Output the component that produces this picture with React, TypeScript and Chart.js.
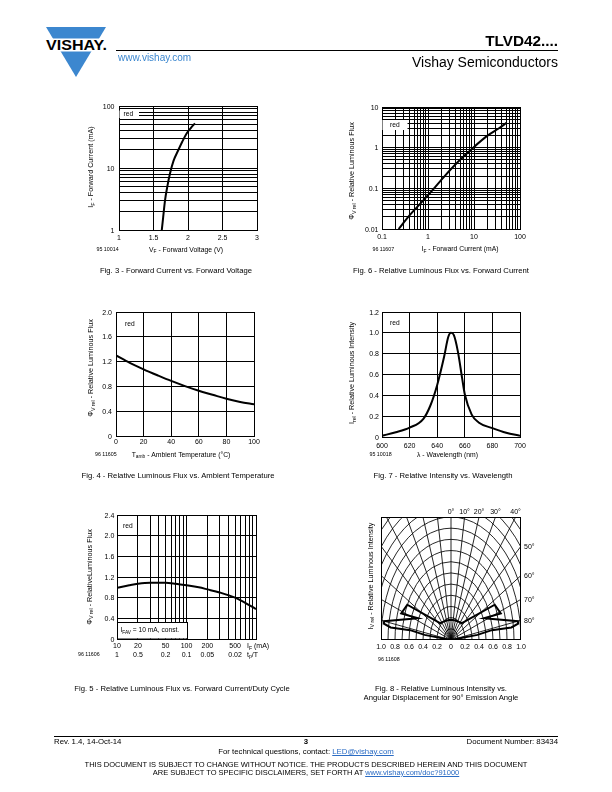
import React, { useEffect, useRef } from 'react';
import { Chart, registerables } from 'chart.js';

Chart.register(...registerables);

const FONT = '"Liberation Sans", Arial, Helvetica, sans-serif';
const BLUE = '#3c87cf';
const LINK = '#2b6cc4';

// ---------- Fig. 3 : Forward current vs forward voltage ----------
const fig3Voltage = [1.62, 1.64, 1.667, 1.7, 1.74, 1.79, 1.86, 1.92, 1.98, 2.04, 2.1];
const fig3Current = [1, 1.6, 3, 5, 8.2, 13, 19.5, 27, 36, 44, 52.6];
const fig3XTicks = [1, 1.5, 2, 2.5, 3];
const fig3XLabels = ['1', '1.5', '2', '2.5', '3'];
const fig3YTicks = [1, 10, 100];
const fig3YLabels = ['1', '10', '100'];

// ---------- Fig. 6 : Relative luminous flux vs forward current ----------
const fig6Current = [0.23, 0.4, 0.72, 1.2, 2.3, 4.5, 9.6, 20, 35, 51];
const fig6Flux = [0.01, 0.022, 0.045, 0.085, 0.2, 0.45, 1.0, 2.0, 3.0, 4.1];
const fig6XTicks = [0.1, 1, 10, 100];
const fig6XLabels = ['0.1', '1', '10', '100'];
const fig6YTicks = [0.01, 0.1, 1, 10];
const fig6YLabels = ['0.01', '0.1', '1', '10'];

// ---------- Fig. 4 : Relative luminous flux vs ambient temperature ----------
const fig4Temperature = [0, 10, 20, 30, 40, 50, 60, 70, 80, 90, 100];
const fig4Flux = [1.3, 1.18, 1.076, 0.98, 0.888, 0.805, 0.73, 0.665, 0.6, 0.55, 0.51];
const fig4XTicks = [0, 20, 40, 60, 80, 100];
const fig4XLabels = ['0', '20', '40', '60', '80', '100'];
const fig4YTicks = [0, 0.4, 0.8, 1.2, 1.6, 2.0];
const fig4YLabels = ['0', '0.4', '0.8', '1.2', '1.6', '2.0'];

// ---------- Fig. 7 : Relative intensity vs wavelength ----------
const fig7Wavelength = [600, 610, 620, 630, 635, 640, 645, 648, 650, 652, 655, 658, 660, 665, 670, 680, 690, 700];
const fig7Intensity = [0.012, 0.045, 0.09, 0.175, 0.3, 0.5, 0.77, 0.96, 1.0, 0.98, 0.82, 0.57, 0.41, 0.215, 0.14, 0.085, 0.04, 0.012];
const fig7XTicks = [600, 620, 640, 660, 680, 700];
const fig7XLabels = ['600', '620', '640', '660', '680', '700'];
const fig7YTicks = [0, 0.2, 0.4, 0.6, 0.8, 1.0, 1.2];
const fig7YLabels = ['0', '0.2', '0.4', '0.6', '0.8', '1.0', '1.2'];

// ---------- Fig. 5 : Relative luminous flux vs forward current / duty cycle ----------
const fig5Current = [10, 15, 20, 30, 50, 70, 100, 150, 200, 300, 500, 700, 1000];
const fig5Flux = [0.99, 1.04, 1.07, 1.09, 1.09, 1.07, 1.04, 1.0, 0.96, 0.9, 0.8, 0.7, 0.58];
const fig5XTicks = [10, 20, 50, 100, 200, 500];
const fig5XLabels = ['10', '20', '50', '100', '200', '500'];
const fig5DutyLabels = ['1', '0.5', '0.2', '0.1', '0.05', '0.02'];
const fig5YTicks = [0, 0.4, 0.8, 1.2, 1.6, 2.0, 2.4];
const fig5YLabels = ['0', '0.4', '0.8', '1.2', '1.6', '2.0', '2.4'];

// ---------- Fig. 8 : Relative luminous intensity vs angular displacement ----------
// right half of the outline, in path order (degrees from axis, relative intensity); left half is mirrored
const fig8Angles = [0, 20, 35, 46, 63.2, 71.5, 67.5, 80, 81.3, 82.6, 81.4, 83.1, 86];
const fig8Radii = [0.18, 0.185, 0.198, 0.217, 0.7, 0.75, 0.51, 0.97, 0.97, 0.87, 0.59, 0.38, 0];
const fig8XTicks = [-1, -0.8, -0.6, -0.4, -0.2, 0, 0.2, 0.4, 0.6, 0.8, 1];
const fig8XLabels = ['1.0', '0.8', '0.6', '0.4', '0.2', '0', '0.2', '0.4', '0.6', '0.8', '1.0'];
const fig8AngleLabels = [0, 10, 20, 30, 40, 50, 60, 70, 80];
const fig8GridAngles = [-90, -80, -70, -60, -50, -40, -30, -20, -10, 0, 10, 20, 30, 40, 50, 60, 70, 80, 90];
const fig8GridRadii = [0.1, 0.2, 0.3, 0.4, 0.5, 0.6, 0.7, 0.8, 0.9, 1.0, 1.1, 1.2, 1.3, 1.4, 1.5];

// ---------- helpers ----------
function logGrid(min: number, max: number): number[] {
  const out: number[] = [];
  for (let e = Math.floor(Math.log10(min)); e <= Math.ceil(Math.log10(max)); e++) {
    for (let k = 1; k <= 9; k++) {
      const v = parseFloat((k * Math.pow(10, e)).toPrecision(6));
      if (v >= min * 0.999 && v <= max * 1.001) out.push(v);
    }
  }
  return out;
}
function linGrid(min: number, max: number, step: number): number[] {
  const out: number[] = [];
  for (let v = min; v <= max + 1e-9; v += step) out.push(parseFloat(v.toFixed(6)));
  return out;
}

type Part = { t: string; sub: boolean };
function parseRich(s: string): Part[] {
  const parts: Part[] = [];
  const re = /_\{([^}]*)\}/g;
  let last = 0;
  let m: RegExpExecArray | null;
  while ((m = re.exec(s))) {
    if (m.index > last) parts.push({ t: s.slice(last, m.index), sub: false });
    parts.push({ t: m[1], sub: true });
    last = m.index + m[0].length;
  }
  if (last < s.length) parts.push({ t: s.slice(last), sub: false });
  return parts;
}

function drawRich(ctx: CanvasRenderingContext2D, s: string, x: number, y: number, size: number, align: string = 'left', rotate = false) {
  const parts = parseRich(s);
  const subSize = size * 0.72;
  const fontOf = (p: Part) => `${p.sub ? subSize : size}px ${FONT}`;
  let total = 0;
  const widths = parts.map((p) => {
    ctx.font = fontOf(p);
    const w = ctx.measureText(p.t).width;
    total += w;
    return w;
  });
  ctx.save();
  ctx.translate(x, y);
  if (rotate) ctx.rotate(-Math.PI / 2);
  ctx.fillStyle = '#000';
  ctx.textBaseline = 'alphabetic';
  ctx.textAlign = 'left';
  let cx = align === 'left' ? 0 : align === 'center' ? -total / 2 : -total;
  const base = size * 0.36;
  parts.forEach((p, i) => {
    ctx.font = fontOf(p);
    ctx.fillText(p.t, cx, p.sub ? base + size * 0.22 : base);
    cx += widths[i];
  });
  ctx.restore();
}

type PageBox = { left: number; top: number; width: number; height: number };
type PlotRect = { l: number; t: number; r: number; b: number };

function padding(box: PageBox, plot: PlotRect) {
  return {
    left: plot.l - box.left,
    top: plot.t - box.top,
    right: box.left + box.width - plot.r,
    bottom: box.top + box.height - plot.b,
  };
}

function axisOptions(type: string, min: number, max: number, grid: number[]) {
  return {
    type,
    min,
    max,
    display: true,
    ticks: { display: false },
    grid: { display: true, color: '#000', lineWidth: 1, drawTicks: false, tickLength: 0 },
    border: { display: true, color: '#000', width: 1 },
    title: { display: false },
    afterBuildTicks: (scale: any) => {
      scale.ticks = grid.map((v) => ({ value: v }));
    },
  };
}

const TICK = 7;
const TITLE = 6.8;
const YTITLE = 7.2;
const CODE = 5.3;

function xyConfig(spec: any) {
  const { box, plot, x, y, xs, ys, deco } = spec;
  const decoPlugin = {
    id: 'deco',
    afterDraw(chart: any) {
      const ctx: CanvasRenderingContext2D = chart.ctx;
      const sx = chart.scales.x;
      const sy = chart.scales.y;
      const L = (px: number) => px - box.left;
      const T = (py: number) => py - box.top;
      if (deco.red.box) {
        const [x0, y0, x1, y1] = deco.red.box;
        ctx.fillStyle = '#fff';
        ctx.fillRect(L(x0), T(y0), x1 - x0, y1 - y0);
      }
      drawRich(ctx, 'red', L(deco.red.x), T(deco.red.y), TICK * 0.95, 'left');
      deco.xTicks.forEach((v: number, i: number) =>
        drawRich(ctx, deco.xLabels[i], sx.getPixelForValue(v), T(deco.xLabelY), TICK, 'center'));
      deco.yTicks.forEach((v: number, i: number) =>
        drawRich(ctx, deco.yLabels[i], L(deco.yLabelRight), sy.getPixelForValue(v), TICK, 'right'));
      drawRich(ctx, deco.code, L(deco.codeX), T(deco.codeY), CODE, 'left');
      if (deco.title) drawRich(ctx, deco.title, L(deco.titleX), T(deco.titleY), TITLE, 'center');
      drawRich(ctx, deco.yTitle, L(deco.yTitleX), T(deco.yTitleY), YTITLE, 'center', true);
      if (deco.extra) deco.extra(ctx, chart, L, T);
    },
  };
  return {
    type: 'scatter',
    data: {
      datasets: [
        {
          data: xs.map((v: number, i: number) => ({ x: v, y: ys[i] })),
          showLine: true,
          borderColor: '#000',
          borderWidth: 2,
          pointRadius: 0,
          pointHoverRadius: 0,
          fill: false,
          cubicInterpolationMode: 'monotone',
          tension: 0.4,
        },
      ],
    },
    options: {
      responsive: false,
      maintainAspectRatio: false,
      animation: false,
      devicePixelRatio: 1,
      events: [],
      layout: { padding: padding(box, plot) },
      plugins: { legend: { display: false }, tooltip: { enabled: false } },
      scales: {
        x: axisOptions(x.type, x.min, x.max, x.grid),
        y: axisOptions(y.type, y.min, y.max, y.grid),
      },
    },
    plugins: [decoPlugin],
  };
}

function fig8Config(box: PageBox, plot: PlotRect) {
  const rad = (d: number) => (d * Math.PI) / 180;
  const right = fig8Angles.map((a, i) => ({ a, r: fig8Radii[i] }));
  const left = right.slice().reverse().map((p) => ({ a: -p.a, r: p.r }));
  const path = [...left, ...right.slice(1)];
  const data = path.map((p) => ({ x: p.r * Math.sin(rad(p.a)), y: p.r * Math.cos(rad(p.a)) }));
  const xMax = 1;
  const yMax = 1.1;
  const gridPlugin = {
    id: 'polarGrid',
    beforeDatasetsDraw(chart: any) {
      const ctx: CanvasRenderingContext2D = chart.ctx;
      const a = chart.chartArea;
      const sx = chart.scales.x;
      const sy = chart.scales.y;
      const cx = sx.getPixelForValue(0);
      const cy = sy.getPixelForValue(0);
      ctx.save();
      ctx.beginPath();
      ctx.rect(a.left, a.top, a.right - a.left, a.bottom - a.top);
      ctx.clip();
      ctx.strokeStyle = '#000';
      ctx.lineWidth = 0.85;
      fig8GridRadii.forEach((r) => {
        const rx = sx.getPixelForValue(r) - cx;
        const ry = cy - sy.getPixelForValue(r);
        ctx.beginPath();
        ctx.ellipse(cx, cy, rx, ry, 0, Math.PI, 2 * Math.PI);
        ctx.stroke();
      });
      fig8GridAngles.forEach((d) => {
        ctx.beginPath();
        ctx.moveTo(cx, cy);
        ctx.lineTo(sx.getPixelForValue(3 * Math.sin(rad(d))), sy.getPixelForValue(3 * Math.cos(rad(d))));
        ctx.stroke();
      });
      ctx.restore();
      ctx.save();
      ctx.strokeStyle = '#000';
      ctx.lineWidth = 1;
      ctx.strokeRect(a.left + 0.5, a.top + 0.5, a.right - a.left - 1, a.bottom - a.top - 1);
      ctx.restore();
    },
    afterDraw(chart: any) {
      const ctx: CanvasRenderingContext2D = chart.ctx;
      const a = chart.chartArea;
      const sx = chart.scales.x;
      const sy = chart.scales.y;
      const L = (px: number) => px - box.left;
      const T = (py: number) => py - box.top;
      fig8XTicks.forEach((v, i) => drawRich(ctx, fig8XLabels[i], sx.getPixelForValue(v), a.bottom + 6, TICK, 'center'));
      fig8AngleLabels.forEach((d) => {
        const t = Math.tan(rad(d));
        const xTop = yMax * t;
        if (xTop <= xMax) {
          drawRich(ctx, `${d}°`, sx.getPixelForValue(xTop), a.top - 6, TICK, 'center');
        } else {
          drawRich(ctx, `${d}°`, a.right + 3, sy.getPixelForValue(xMax / t), TICK, 'left');
        }
      });
      drawRich(ctx, '96 11608', L(378), T(659), CODE, 'left');
      drawRich(ctx, 'I_{V rel} - Relative Luminous Intensity', L(370), T(576), YTITLE, 'center', true);
    },
  };
  return {
    type: 'scatter',
    data: {
      datasets: [
        {
          data,
          showLine: true,
          borderColor: '#000',
          borderWidth: 2,
          pointRadius: 0,
          pointHoverRadius: 0,
          fill: false,
          tension: 0,
        },
      ],
    },
    options: {
      responsive: false,
      maintainAspectRatio: false,
      animation: false,
      devicePixelRatio: 1,
      events: [],
      layout: { padding: padding(box, plot) },
      plugins: { legend: { display: false }, tooltip: { enabled: false } },
      scales: {
        x: { type: 'linear', min: -xMax, max: xMax, display: false },
        y: { type: 'linear', min: 0, max: yMax, display: false },
      },
    },
    plugins: [gridPlugin],
  };
}

function ChartCanvas({ box, build }: { box: PageBox; build: () => any }) {
  const ref = useRef<HTMLCanvasElement>(null);
  useEffect(() => {
    const chart = new Chart(ref.current as HTMLCanvasElement, build() as any);
    return () => chart.destroy();
  }, []);
  return (
    <canvas
      ref={ref}
      width={box.width}
      height={box.height}
      style={{ position: 'absolute', left: box.left, top: box.top, width: box.width, height: box.height }}
    />
  );
}

function Txt({ x, y, size, align = 'left', bold = false, color = '#000', children }: any) {
  const tx = align === 'left' ? '0' : align === 'center' ? '-50%' : '-100%';
  return (
    <div
      style={{
        position: 'absolute',
        left: x,
        top: y - size * 0.49,
        fontSize: size,
        lineHeight: `${size}px`,
        fontFamily: FONT,
        fontWeight: bold ? 'bold' : 'normal',
        color,
        whiteSpace: 'nowrap',
        transform: `translateX(${tx})`,
        willChange: 'transform',
      }}
    >
      {children}
    </div>
  );
}

// ---------- figure layouts (page coordinates) ----------
const box3: PageBox = { left: 70, top: 98, width: 220, height: 160 };
const plot3: PlotRect = { l: 119, t: 106, r: 257, b: 230 };
const box6: PageBox = { left: 335, top: 98, width: 220, height: 160 };
const plot6: PlotRect = { l: 382, t: 107, r: 520, b: 229 };
const box4: PageBox = { left: 70, top: 303, width: 220, height: 160 };
const plot4: PlotRect = { l: 116, t: 312, r: 254, b: 436 };
const box7: PageBox = { left: 335, top: 303, width: 220, height: 160 };
const plot7: PlotRect = { l: 382, t: 312, r: 520, b: 437 };
const box5: PageBox = { left: 60, top: 505, width: 240, height: 160 };
const plot5: PlotRect = { l: 117, t: 515, r: 256, b: 639 };
const box8: PageBox = { left: 335, top: 500, width: 220, height: 165 };
const plot8: PlotRect = { l: 381, t: 517, r: 521, b: 640 };

const build3 = () =>
  xyConfig({
    box: box3, plot: plot3,
    x: { type: 'linear', min: 1, max: 3, grid: linGrid(1, 3, 0.5) },
    y: { type: 'logarithmic', min: 1, max: 100, grid: logGrid(1, 100) },
    xs: fig3Voltage, ys: fig3Current,
    deco: {
      xTicks: fig3XTicks, xLabels: fig3XLabels, xLabelY: 237.5,
      yTicks: fig3YTicks, yLabels: fig3YLabels, yLabelRight: 114.5,
      code: '95 10014', codeX: 96.5, codeY: 249.5,
      title: 'V_{F} - Forward Voltage (V)', titleX: 186, titleY: 249.5,
      yTitle: 'I_{F} - Forward Current (mA)', yTitleX: 90.7, yTitleY: 167,
      red: { x: 123.5, y: 114, box: [119.5, 110.5, 139, 118] },
    },
  });

const build6 = () =>
  xyConfig({
    box: box6, plot: plot6,
    x: { type: 'logarithmic', min: 0.1, max: 100, grid: logGrid(0.1, 100) },
    y: { type: 'logarithmic', min: 0.01, max: 10, grid: logGrid(0.01, 10) },
    xs: fig6Current, ys: fig6Flux,
    deco: {
      xTicks: fig6XTicks, xLabels: fig6XLabels, xLabelY: 236.7,
      yTicks: fig6YTicks, yLabels: fig6YLabels, yLabelRight: 378.5,
      code: '96 11607', codeX: 372.5, codeY: 249,
      title: 'I_{F} - Forward Current (mA)', titleX: 460, titleY: 249,
      yTitle: 'Φ_{V rel} - Relative Luminous Flux', yTitleX: 351.7, yTitleY: 171,
      red: { x: 390, y: 124.5, box: [382.5, 120, 407.5, 130] },
    },
  });

const build4 = () =>
  xyConfig({
    box: box4, plot: plot4,
    x: { type: 'linear', min: 0, max: 100, grid: linGrid(0, 100, 20) },
    y: { type: 'linear', min: 0, max: 2, grid: linGrid(0, 2, 0.4) },
    xs: fig4Temperature, ys: fig4Flux,
    deco: {
      xTicks: fig4XTicks, xLabels: fig4XLabels, xLabelY: 441.3,
      yTicks: fig4YTicks, yLabels: fig4YLabels, yLabelRight: 112,
      code: '96 11605', codeX: 95, codeY: 454.3,
      title: 'T_{amb} - Ambient Temperature (°C)', titleX: 181, titleY: 454.3,
      yTitle: 'Φ_{V rel} - Relative Luminous Flux', yTitleX: 90.7, yTitleY: 368,
      red: { x: 125, y: 324 },
    },
  });

const build7 = () =>
  xyConfig({
    box: box7, plot: plot7,
    x: { type: 'linear', min: 600, max: 700, grid: linGrid(600, 700, 20) },
    y: { type: 'linear', min: 0, max: 1.2, grid: linGrid(0, 1.2, 0.2) },
    xs: fig7Wavelength, ys: fig7Intensity,
    deco: {
      xTicks: fig7XTicks, xLabels: fig7XLabels, xLabelY: 445,
      yTicks: fig7YTicks, yLabels: fig7YLabels, yLabelRight: 379,
      code: '95 10018', codeX: 369.5, codeY: 454.3,
      title: 'λ - Wavelength (nm)', titleX: 447.5, titleY: 454.3,
      yTitle: 'I_{rel} - Relative Luminous Intensity', yTitleX: 351.7, yTitleY: 373,
      red: { x: 390, y: 323 },
    },
  });

const build5 = () =>
  xyConfig({
    box: box5, plot: plot5,
    x: { type: 'logarithmic', min: 10, max: 1000, grid: logGrid(10, 1000) },
    y: { type: 'linear', min: 0, max: 2.4, grid: linGrid(0, 2.4, 0.4) },
    xs: fig5Current, ys: fig5Flux,
    deco: {
      xTicks: fig5XTicks, xLabels: fig5XLabels, xLabelY: 645.7,
      yTicks: fig5YTicks, yLabels: fig5YLabels, yLabelRight: 114.3,
      code: '96 11606', codeX: 78, codeY: 654,
      title: '', titleX: 0, titleY: 0,
      yTitle: 'Φ_{V rel} - RelativeLuminous Flux', yTitleX: 89.3, yTitleY: 577,
      red: { x: 123, y: 526 },
      extra: (ctx: CanvasRenderingContext2D, chart: any, L: any, T: any) => {
        const sx = chart.scales.x;
        fig5XTicks.forEach((v, i) => drawRich(ctx, fig5DutyLabels[i], sx.getPixelForValue(v), T(654), TICK, 'center'));
        drawRich(ctx, 'I_{F} (mA)', L(247), T(645.7), TICK, 'left');
        drawRich(ctx, 't_{p}/T', L(247), T(654), TICK, 'left');
        ctx.save();
        ctx.fillStyle = '#fff';
        ctx.fillRect(L(117.5), T(622.5), 70, 16);
        ctx.strokeStyle = '#000';
        ctx.lineWidth = 1;
        ctx.strokeRect(L(117.5), T(622.5), 70, 16.5);
        ctx.restore();
        drawRich(ctx, 'I_{FAV} = 10 mA, const.', L(120.5), T(630), TICK * 0.95, 'left');
      },
    },
  });

const build8 = () => fig8Config(box8, plot8);

export default function App() {
  return (
    <div style={{ position: 'absolute', left: 0, top: 0, width: 612, height: 792, background: '#fff', overflow: 'hidden' }}>
      {/* header */}
      <svg style={{ position: 'absolute', left: 0, top: 0 }} width={612} height={90}>
        <polygon points="46,27 106,27 76,77" fill={BLUE} />
        <rect x={40} y={38.5} width={72} height={13} fill="#fff" />
        <text x={46} y={50} fontFamily={FONT} fontWeight="bold" fontSize={14} fill="#000" textLength={61} lengthAdjust="spacingAndGlyphs">
          VISHAY.
        </text>
        <line x1={116} y1={50.5} x2={558} y2={50.5} stroke="#000" strokeWidth={1} />
      </svg>
      <Txt x={558} y={40.5} size={15.3} align="right" bold>TLVD42....</Txt>
      <Txt x={118} y={57.5} size={10} color={BLUE}>www.vishay.com</Txt>
      <Txt x={558} y={62} size={14} align="right">Vishay Semiconductors</Txt>

      {/* charts */}
      <ChartCanvas box={box3} build={build3} />
      <ChartCanvas box={box6} build={build6} />
      <ChartCanvas box={box4} build={build4} />
      <ChartCanvas box={box7} build={build7} />
      <ChartCanvas box={box5} build={build5} />
      <ChartCanvas box={box8} build={build8} />

      {/* captions */}
      <Txt x={176} y={271} size={7.7} align="center">Fig. 3 - Forward Current vs. Forward Voltage</Txt>
      <Txt x={441} y={271} size={7.7} align="center">Fig. 6 - Relative Luminous Flux vs. Forward Current</Txt>
      <Txt x={178} y={476} size={7.7} align="center">Fig. 4 - Relative Luminous Flux vs. Ambient Temperature</Txt>
      <Txt x={443} y={476} size={7.7} align="center">Fig. 7 - Relative Intensity vs. Wavelength</Txt>
      <Txt x={182} y={689} size={7.7} align="center">Fig. 5 - Relative Luminous Flux vs. Forward Current/Duty Cycle</Txt>
      <Txt x={441} y={689} size={7.7} align="center">Fig. 8 - Relative Luminous Intensity vs.</Txt>
      <Txt x={441} y={698} size={7.7} align="center">Angular Displacement for 90° Emission Angle</Txt>

      {/* footer */}
      <div style={{ position: 'absolute', left: 54, top: 736, width: 504, height: 1, background: '#000' }} />
      <Txt x={54} y={742} size={7.8}>Rev. 1.4, 14-Oct-14</Txt>
      <Txt x={306} y={742} size={7.8} align="center" bold>3</Txt>
      <Txt x={558} y={742} size={7.8} align="right">Document Number: 83434</Txt>
      <Txt x={306} y={752} size={7.8} align="center">
        For technical questions, contact: <span style={{ color: LINK, textDecoration: 'underline' }}>LED@vishay.com</span>
      </Txt>
      <Txt x={306} y={764.5} size={7.5} align="center">
        THIS DOCUMENT IS SUBJECT TO CHANGE WITHOUT NOTICE. THE PRODUCTS DESCRIBED HEREIN AND THIS DOCUMENT
      </Txt>
      <Txt x={306} y={773} size={7.5} align="center">
        ARE SUBJECT TO SPECIFIC DISCLAIMERS, SET FORTH AT <span style={{ color: LINK, textDecoration: 'underline' }}>www.vishay.com/doc?91000</span>
      </Txt>
    </div>
  );
}
